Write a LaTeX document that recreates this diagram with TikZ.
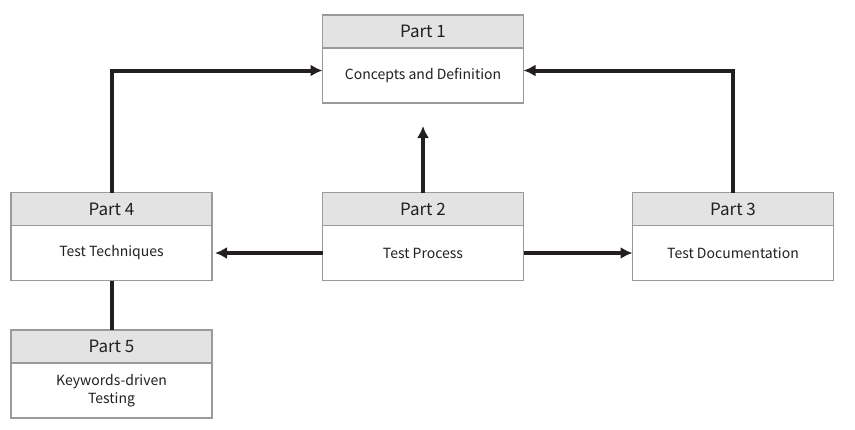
\documentclass[tikz,border=0pt]{standalone}
\usepackage{fontspec}
\newfontfamily\partfont{Noto Sans CJK KR}
\usetikzlibrary{arrows.meta,positioning}
\definecolor{boxgray}{HTML}{9A9A9A}
\definecolor{headgray}{HTML}{E3E3E3}
\definecolor{ink}{HTML}{231F20}

\begin{document}
\begin{tikzpicture}[x=1pt,y=-1pt,>={Latex[length=12pt,width=12pt]},node distance=0pt,
  head/.style={draw=boxgray,line width=1.5pt,fill=headgray,minimum width=201pt,
    minimum height=33pt,inner sep=0pt,outer sep=0pt,text=ink,
    font=\partfont\fontsize{17}{20}\selectfont},
  body/.style={draw=boxgray,line width=1.5pt,fill=white,minimum width=201pt,
    minimum height=55pt,inner sep=0pt,outer sep=0pt,align=center,text=ink,
    font=\partfont\fontsize{14}{18}\selectfont},
  link/.style={line width=4pt,draw=ink}]
  \useasboundingbox (0,0) rectangle (855,429);
  % parts
  \node[head] (p1h) at (423,31.5) {Part 1};
  \node[body] (p1) [below=of p1h] {Concepts and Definition};
  \node[head] (p2h) at (423,209) {Part 2};
  \node[body] (p2) [below=of p2h] {Test Process};
  \node[head] (p3h) at (733,209) {Part 3};
  \node[body] (p3) [below=of p3h] {Test Documentation};
  \node[head] (p4h) at (111.5,209) {Part 4};
  \node[body] (p4) [below=of p4h] {Test Techniques};
  \node[head] (p5h) at (111.5,346.5) {Part 5};
  \node[body] (p5) [below=of p5h] {Keywords-driven\\Testing};
  % links
  \draw[link,->] (p4h.north) |- ([yshift=5pt]p1.west);
  \draw[link,->] (p3h.north) |- ([yshift=5pt]p1.east);
  \draw[link,->,shorten >=23pt] (p2h.north) -- (p1.south);
  \draw[link,->,shorten >=3pt] (p2.west) -- (p4.east);
  \draw[link,->] (p2.east) -- (p3.west);
  \draw[link] (p4.south) -- (p5h.north);
\end{tikzpicture}
\end{document}
